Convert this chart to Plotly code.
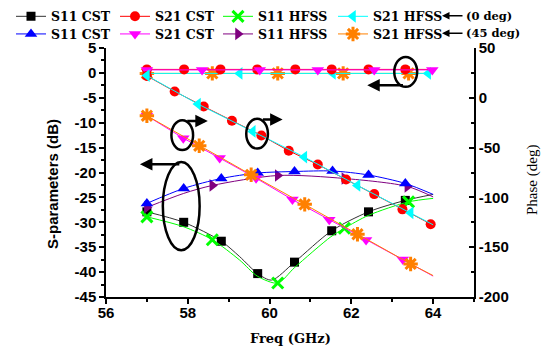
import plotly.graph_objects as go

# ---------------- data ----------------
# S11 magnitudes (dB, left axis)
f_s11_cst_0 = [57, 57.9, 58.82, 59.27, 59.71, 60.05, 60.61, 61.52, 62.42, 63.32, 64]
v_s11_cst_0 = [-27.9, -30.0, -33.8, -36.9, -40.3, -41.6, -38.0, -31.7, -27.9, -25.6, -24.4]
m_s11_cst_0 = [0, 1, 2, 4, 6, 7, 8, 9]

f_s11_hfss_0 = [57, 57.9, 58.6, 59.27, 59.7, 60.2, 60.61, 61.5, 61.83, 62.42, 63.4, 64]
v_s11_hfss_0 = [-28.9, -30.9, -33.5, -37.6, -40.8, -42.2, -39.1, -32.9, -31.2, -28.6, -25.9, -25.2]
m_s11_hfss_0 = [0, 2, 5, 8, 10]

f_s11_cst_45 = [57, 57.9, 58.82, 59.71, 60.61, 61.54, 62.42, 63.32, 64]
v_s11_cst_45 = [-26.2, -23.2, -21.2, -20.1, -19.8, -19.7, -20.5, -22.2, -24.4]
m_s11_cst_45 = [0, 1, 2, 3, 4, 5, 6, 7]

f_s11_hfss_45 = [57, 57.9, 58.6, 60.2, 61.83, 63.37, 64]
v_s11_hfss_45 = [-27.0, -24.2, -22.6, -20.6, -21.2, -22.8, -24.9]
m_s11_hfss_45 = [0, 2, 3, 4, 5]

# S21 magnitudes (dB, left axis)
f_s21_cst_0_mag = [57, 57.91, 58.8, 59.7, 60.63, 61.52, 62.42, 63.32, 64]
v_s21_cst_0_mag = [0.7, 0.7, 0.7, 0.7, 0.7, 0.7, 0.7, 0.7, 0.7]
m_s21_cst_0_mag = [0, 1, 2, 3, 4, 5, 6, 7]

f_s21_hfss_0_mag = [57, 59.27, 61.55, 63.88, 64]
v_s21_hfss_0_mag = [-0.1, -0.1, -0.1, -0.1, -0.1]
m_s21_hfss_0_mag = [1, 2, 3]

f_s21_cst_45_mag = [57, 58.35, 59.76, 61.18, 62.56, 63.98, 64]
v_s21_cst_45_mag = [0.6, 0.6, 0.6, 0.6, 0.6, 0.6, 0.6]
m_s21_cst_45_mag = [0, 1, 2, 3, 4, 5]

f_s21_hfss_45_mag = [57, 58.6, 60.2, 61.8, 63.4, 64]
v_s21_hfss_45_mag = [-0.1, -0.1, -0.1, -0.1, -0.1, -0.1]
m_s21_hfss_45_mag = [0, 1, 2, 3, 4]

# S21 phases (deg, right axis)
f_s21_cst_0_ph = [57, 57.68, 58.39, 59.08, 59.8, 60.47, 61.18, 61.87, 62.56, 63.25, 63.94, 64]
v_s21_cst_0_ph = [22, 6.4, -8.7, -23.1, -37.8, -53.2, -67.0, -82.0, -96.7, -112.0, -126.9, -128.0]
m_s21_cst_0_ph = [0, 1, 2, 3, 4, 5, 6, 7, 8, 9, 10]

f_s21_hfss_0_ph = [57, 58.25, 59.59, 60.85, 62.15, 63.45, 64]
v_s21_hfss_0_ph = [22.3, -6.3, -33.8, -59.5, -88.0, -115.5, -127.5]
m_s21_hfss_0_ph = [0, 1, 2, 3, 4, 5]

f_s21_cst_45_ph = [57, 57.89, 58.78, 59.67, 60.56, 61.46, 62.36, 63.26, 64]
v_s21_cst_45_ph = [-18, -40.5, -60.5, -80.7, -102.2, -122.5, -142.7, -162.4, -179]
m_s21_cst_45_ph = [0, 1, 2, 3, 4, 5, 6, 7]

f_s21_hfss_45_ph = [57, 58.28, 59.55, 60.86, 62.15, 63.45, 64]
v_s21_hfss_45_ph = [-18, -48.2, -77.3, -107.0, -137.0, -166.8, -178.5]
m_s21_hfss_45_ph = [0, 1, 2, 3, 4, 5]

legend_names = ["S11 CST", "S21 CST", "S11 HFSS", "S21 HFSS"]
legend_tags = ["(0 deg)", "(45 deg)"]

y_left_vals = [5, 0, -5, -10, -15, -20, -25, -30, -35, -40, -45]
y_left_text = ["5", "0", "-5", "-10", "-15", "-20", "-25", "-30", "-35", "-40", "-45"]
y_right_vals = [50, 0, -50, -100, -150, -200]
y_right_text = ["50", "0", "-50", "-100", "-150", "-200"]
x_vals = [56, 58, 60, 62, 64]
x_text = ["56", "58", "60", "62", "64"]

x_title = "Freq (GHz)"
y_title = "S-parameters (dB)"
y2_title = "Phase (deg)"

# ---------------- styles ----------------
BLACK = "#000000"
RED = "#ff0000"
GREEN = "#00ff00"
CYAN = "#00ffff"
BLUE = "#0000ff"
MAGENTA = "#ff00ff"
PURPLE = "#800080"
ORANGE = "#ff8000"

styles = {
    "s11_cst_0": dict(color=BLACK, line="#333333", symbol="square", size=9, lw=0),
    "s21_cst_0": dict(color=RED, line=RED, symbol="circle", size=10, lw=0),
    "s11_hfss_0": dict(color=GREEN, line=GREEN, symbol="x-thin-open", size=11, lw=3),
    "s21_hfss_0": dict(color=CYAN, line=CYAN, symbol="triangle-left", size=11, lw=0),
    "s11_cst_45": dict(color=BLUE, line=BLUE, symbol="triangle-up", size=11, lw=0),
    "s21_cst_45": dict(color=MAGENTA, line=MAGENTA, symbol="triangle-down", size=11, lw=0),
    "s11_hfss_45": dict(color=PURPLE, line=PURPLE, symbol="triangle-right", size=11, lw=0),
    "s21_hfss_45": dict(color=ORANGE, line=ORANGE, symbol="asterisk-open", size=12, lw=3),
}

# The page body has an 8px margin, so the figure is drawn 8px in from the window corner.
BODY = 8
FIG_W, FIG_H = 551 - BODY, 350 - BODY
# plot-area geometry as seen in the window (reference pixels)
L, R, T, B = 106, 474, 48, 297
PW, PH = R - L, B - T


def px_x(px):
    return (px - L) / PW


def px_y(py):
    return (B - py) / PH


def marker_dict(st):
    return dict(symbol=st["symbol"], size=st["size"], color=st["color"],
                line=dict(color=st["color"], width=st["lw"]))


fig = go.Figure()


def add_curve(x, y, idx, key, yaxis="y", shape="linear"):
    st = styles[key]
    fig.add_trace(go.Scatter(
        x=x, y=y, mode="lines", yaxis=yaxis, showlegend=False, hoverinfo="skip",
        line=dict(color=st["line"], width=1, shape=shape, smoothing=0.8)))
    fig.add_trace(go.Scatter(
        x=[x[i] for i in idx], y=[y[i] for i in idx], mode="markers", yaxis=yaxis,
        showlegend=False, marker=marker_dict(st)))


# magnitudes (left axis)
add_curve(f_s21_hfss_45_mag, v_s21_hfss_45_mag, m_s21_hfss_45_mag, "s21_hfss_45")
add_curve(f_s21_hfss_0_mag, v_s21_hfss_0_mag, m_s21_hfss_0_mag, "s21_hfss_0")
add_curve(f_s21_cst_0_mag, v_s21_cst_0_mag, m_s21_cst_0_mag, "s21_cst_0")
add_curve(f_s21_cst_45_mag, v_s21_cst_45_mag, m_s21_cst_45_mag, "s21_cst_45")
add_curve(f_s11_cst_0, v_s11_cst_0, m_s11_cst_0, "s11_cst_0", shape="spline")
add_curve(f_s11_hfss_0, v_s11_hfss_0, m_s11_hfss_0, "s11_hfss_0", shape="spline")
add_curve(f_s11_hfss_45, v_s11_hfss_45, m_s11_hfss_45, "s11_hfss_45", shape="spline")
add_curve(f_s11_cst_45, v_s11_cst_45, m_s11_cst_45, "s11_cst_45", shape="spline")

# phases (right axis)
add_curve(f_s21_cst_0_ph, v_s21_cst_0_ph, m_s21_cst_0_ph, "s21_cst_0", yaxis="y2")
add_curve(f_s21_hfss_0_ph, v_s21_hfss_0_ph, m_s21_hfss_0_ph, "s21_hfss_0", yaxis="y2")
add_curve(f_s21_cst_45_ph, v_s21_cst_45_ph, m_s21_cst_45_ph, "s21_cst_45", yaxis="y2")
add_curve(f_s21_hfss_45_ph, v_s21_hfss_45_ph, m_s21_hfss_45_ph, "s21_hfss_45", yaxis="y2")

# legend: one small legend per entry so each sits where the reference has it
legend_font = dict(family="DejaVu Serif", size=12.5, color="black", weight="bold")
tag_font = dict(family="DejaVu Serif", size=11.5, color="black", weight="bold")
ROW_Y = [15.7, 33.3]                 # row centres (window px)
TEXT_X = [53, 157, 260, 375]         # where each entry's text starts (window px)
TEXT_OFFSET = 42                     # text start relative to legend box edge
rows = [["s11_cst_0", "s21_cst_0", "s11_hfss_0", "s21_hfss_0"],
        ["s11_cst_45", "s21_cst_45", "s11_hfss_45", "s21_hfss_45"]]

legend_layouts = {}
n = 0
for r, keys in enumerate(rows):
    for c, (name, key) in enumerate(zip(legend_names, keys)):
        n += 1
        lg = "legend" if n == 1 else f"legend{n}"
        st = styles[key]
        fig.add_trace(go.Scatter(
            x=[None], y=[None], mode="lines+markers", name=name, legend=lg,
            line=dict(color=st["line"], width=1), marker=marker_dict(st)))
        legend_layouts[lg] = dict(
            orientation="h", xref="paper", yref="paper", xanchor="left", yanchor="middle",
            x=px_x(TEXT_X[c] - TEXT_OFFSET), y=px_y(ROW_Y[r] + 1),
            font=legend_font, bgcolor="rgba(0,0,0,0)", itemwidth=30)

tick_font = dict(family="Liberation Sans", size=15, color="black", weight="bold")

fig.update_layout(
    width=FIG_W, height=FIG_H,
    margin=dict(l=L - BODY, r=FIG_W - (R - BODY), t=T - BODY, b=FIG_H - (B - BODY),
                autoexpand=False),
    paper_bgcolor="white", plot_bgcolor="white",
    xaxis=dict(range=[56, 65], tickvals=x_vals, ticktext=x_text, showgrid=False,
               zeroline=False, showline=True, linecolor="black", linewidth=1.5,
               ticks="outside", ticklen=5, tickwidth=1.5, tickcolor="black",
               ticklabelstandoff=-4,
               minor=dict(dtick=1, ticks="outside", ticklen=3, tickcolor="black", tickwidth=1.5),
               tickfont=tick_font),
    yaxis=dict(range=[-45, 5], tickvals=y_left_vals, ticktext=y_left_text, showgrid=False,
               zeroline=False, showline=True, linecolor="black", linewidth=1.5,
               ticks="outside", ticklen=5, tickwidth=1.5, tickcolor="black",
               minor=dict(dtick=2.5, ticks="outside", ticklen=3, tickcolor="black", tickwidth=1.5),
               tickfont=tick_font),
    yaxis2=dict(range=[-200, 50], tickvals=y_right_vals, ticktext=y_right_text, overlaying="y",
                side="right", showgrid=False, zeroline=False, showline=True, linecolor="black",
                linewidth=1.5, ticks="inside", ticklen=5, tickwidth=1.5, tickcolor="black",
                minor=dict(dtick=25, ticks="inside", ticklen=3, tickcolor="black", tickwidth=1.5),
                tickfont=tick_font),
    **legend_layouts,
)

# axis titles placed as in the reference
fig.add_annotation(x=px_x(290), y=px_y(338), xref="paper", yref="paper", text=x_title,
                   showarrow=False, xanchor="center", yanchor="middle",
                   font=dict(family="DejaVu Serif", size=13, color="black", weight="bold"))
fig.add_annotation(x=px_x(52), y=px_y(184), xref="paper", yref="paper", text=y_title,
                   showarrow=False, textangle=-90, xanchor="center", yanchor="middle",
                   font=dict(family="Liberation Sans Narrow, Liberation Sans", size=15,
                             color="black", weight="bold"))
fig.add_annotation(x=px_x(533), y=px_y(180), xref="paper", yref="paper", text=y2_title,
                   showarrow=False, textangle=-90, xanchor="center", yanchor="middle",
                   font=dict(family="Liberation Serif", size=15, color="black"))

# ellipses marking which axis each group belongs to
ellipses = [
    dict(x0=63.05, x1=63.61, y0=-2.8, y1=3.2),
    dict(x0=57.6, x1=58.13, y0=-15.5, y1=-9.5),
    dict(x0=59.43, x1=59.96, y0=-15.2, y1=-9.2),
    dict(x0=57.39, x1=58.29, y0=-35.6, y1=-17.9),
]
for e in ellipses:
    fig.add_shape(type="circle", xref="x", yref="y", line=dict(color="black", width=2.5), **e)

arrows = [
    dict(tail=(63.3, -2.5), head=(62.39, -2.5)),
    dict(tail=(57.95, -9.64), head=(58.49, -9.64)),
    dict(tail=(59.8, -9.36), head=(60.32, -9.36)),
    dict(tail=(57.83, -18.33), head=(56.83, -18.33)),
]
for a in arrows:
    fig.add_annotation(x=a["head"][0], y=a["head"][1], ax=a["tail"][0], ay=a["tail"][1],
                       xref="x", yref="y", axref="x", ayref="y", text="", showarrow=True,
                       arrowhead=2, arrowsize=1, arrowwidth=2.5, arrowcolor="black",
                       standoff=0, startstandoff=0)

# "(0 deg)" / "(45 deg)" legend tags: a short left-pointing arrow, then the text
TAG_HEAD, TAG_TEXT = 442, 464
for txt, ypx in zip(legend_tags, ROW_Y):
    fig.add_annotation(x=px_x(TAG_HEAD), y=px_y(ypx), ax=TAG_TEXT - TAG_HEAD, ay=0,
                       xref="paper", yref="paper", text="", showarrow=True,
                       arrowhead=2, arrowsize=1, arrowwidth=1.5, arrowcolor="black",
                       standoff=0, startstandoff=0)
    fig.add_annotation(x=px_x(TAG_TEXT), y=px_y(ypx), xref="paper", yref="paper", text=txt,
                       showarrow=False, font=tag_font, xanchor="left", yanchor="middle")

fig.write_html("out.html")
